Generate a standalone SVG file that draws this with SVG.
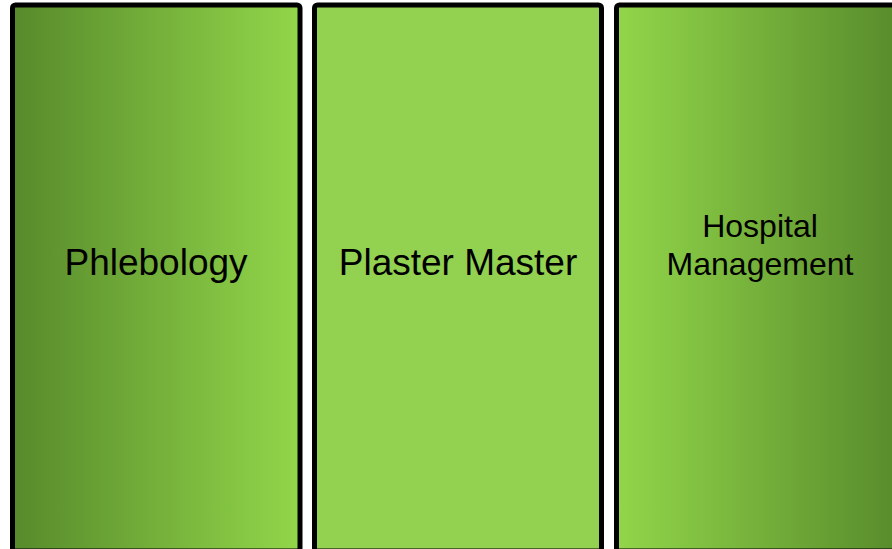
<svg xmlns="http://www.w3.org/2000/svg" width="892" height="549" viewBox="0 0 892 549">
  <defs>
    <linearGradient id="gL" x1="0" y1="0" x2="1" y2="0">
      <stop offset="0" stop-color="#578a2b"/>
      <stop offset="1" stop-color="#92d64a"/>
    </linearGradient>
    <linearGradient id="gR" x1="0" y1="0" x2="1" y2="0">
      <stop offset="0" stop-color="#92d64a"/>
      <stop offset="1" stop-color="#578a2b"/>
    </linearGradient>
    <style>
      .panel { stroke: #000; stroke-width: 5; }
      .lbl { font-family: "Liberation Sans", Arial, sans-serif; fill: #000; text-anchor: middle; }
    </style>
  </defs>
  <rect width="892" height="549" fill="#fff"/>
  <g id="phlebology">
    <rect class="panel" x="12.5" y="5" width="287.5" height="546" rx="3" fill="url(#gL)"/>
    <text class="lbl" x="156" y="275" font-size="37">Phlebology</text>
  </g>
  <g id="plaster-master">
    <rect class="panel" x="314.5" y="5" width="287" height="546" rx="3" fill="#93d150"/>
    <text class="lbl" x="458" y="275" font-size="37">Plaster Master</text>
  </g>
  <g id="hospital-management">
    <rect class="panel" x="616.5" y="5" width="287.5" height="546" rx="3" fill="url(#gR)"/>
    <text class="lbl" x="760" y="237" font-size="32">Hospital</text>
    <text class="lbl" x="760" y="275" font-size="32">Management</text>
  </g>
  <g id="connectors"></g>
</svg>
